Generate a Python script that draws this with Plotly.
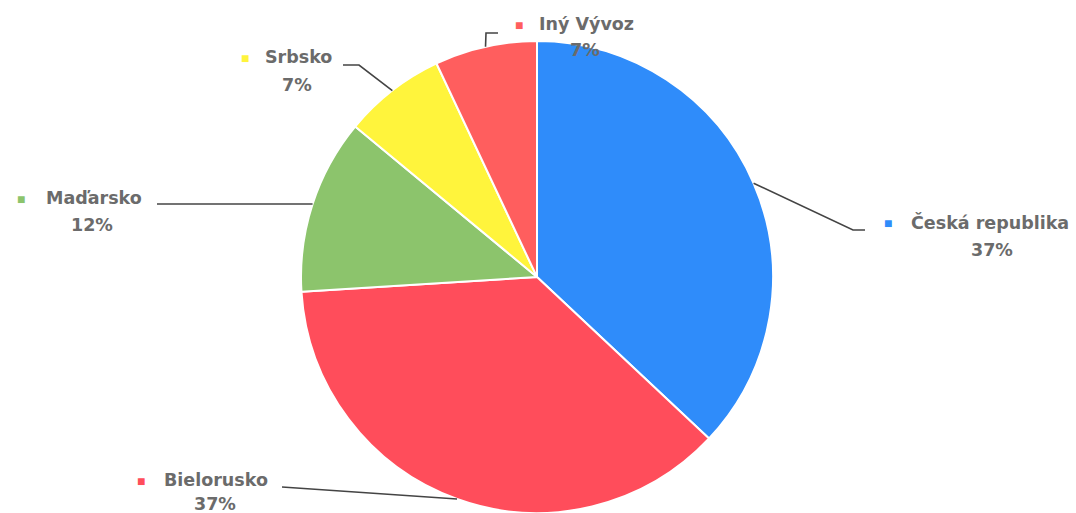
import math
import plotly.graph_objects as go

# ---- data ----
labels = ["Česká republika", "Bielorusko", "Maďarsko", "Srbsko", "Iný Vývoz"]
values = [37, 37, 12, 7, 7]
pct_text = ["37%", "37%", "12%", "7%", "7%"]
colors = ["#2F8CFA", "#FF4D5B", "#8CC46C", "#FFF43C", "#FF5E5E"]

# ---- layout geometry (pixels) ----
W, H = 1076, 513
CX, CY, R = 537, 277, 236

# label placement: name center, name y, pct center, pct y, square x
label_pos = [
    (990, 222, 992, 250, 888),
    (216, 480, 215, 504, 141),
    (94, 198, 92, 225, 21),
    (298, 57, 297, 85, 245),
    (586, 24, 585, 50, 519),
]
# leader path points after the edge point (pixels)
leader_pts = [
    [(853, 230), (865, 230)],
    [(282, 487)],
    [(157, 204)],
    [(359, 65), (343, 65)],
    [(486, 33), (498, 33)],
]

def px(x):
    return x / W

def py(y):
    return 1 - y / H

fig = go.Figure(go.Pie(
    labels=labels, values=values, sort=False, direction="clockwise",
    rotation=0, textinfo="none", hoverinfo="label+percent",
    marker=dict(colors=colors, line=dict(color="white", width=2)),
    domain=dict(x=[px(CX - R), px(CX + R)], y=[py(CY + R), py(CY - R)]),
    showlegend=False,
))

total = sum(values)
cum = 0
font = dict(family="DejaVu Sans, sans-serif", size=17.5, color="#6b6b6b")
for i, v in enumerate(values):
    mid = (cum + v / 2) / total * 2 * math.pi
    cum += v
    ex = CX + R * math.sin(mid)
    ey = CY - R * math.cos(mid)
    pts = [(ex, ey)] + leader_pts[i]
    path = "M " + " L ".join(f"{px(x)},{py(y)}" for x, y in pts)
    fig.add_shape(type="path", path=path, xref="paper", yref="paper",
                  line=dict(color="#444444", width=1.6))
    nx, ny, pcx, pcy, sx = label_pos[i]
    fig.add_annotation(x=px(nx), y=py(ny), xref="paper", yref="paper",
                       text=f"<b>{labels[i]}</b>", showarrow=False,
                       xanchor="center", yanchor="middle", font=font)
    fig.add_annotation(x=px(pcx), y=py(pcy), xref="paper", yref="paper",
                       text=f"<b>{pct_text[i]}</b>", showarrow=False,
                       xanchor="center", yanchor="middle", font=font)
    fig.add_annotation(x=px(sx), y=py(ny), xref="paper", yref="paper",
                       text="■", showarrow=False,
                       xanchor="center", yanchor="middle",
                       font=dict(size=14, color=colors[i]))

fig.update_layout(
    width=W, height=H,
    margin=dict(l=0, r=0, t=0, b=0),
    paper_bgcolor="white", plot_bgcolor="white",
)

fig.write_html("out.html", config={"displayModeBar": False},
               post_script="document.body.style.margin='0';")
